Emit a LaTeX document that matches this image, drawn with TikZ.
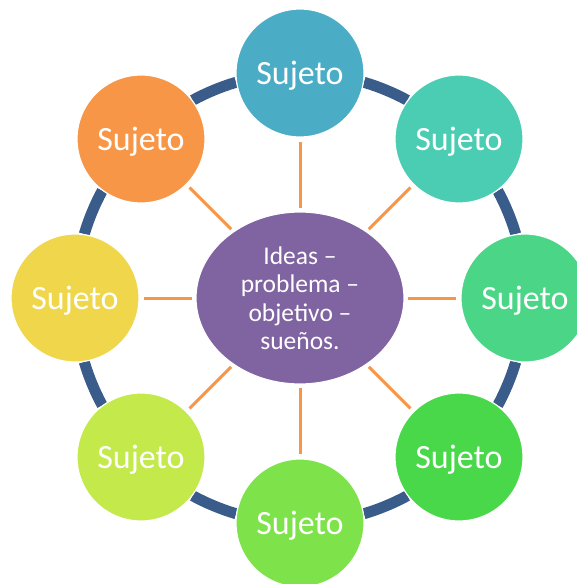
\documentclass[tikz,border=0pt]{standalone}
\usepackage{fontspec}
\setmainfont{Carlito}
\usetikzlibrary{shapes.geometric}

\definecolor{ringblue}{HTML}{3A5C8B}
\definecolor{linkorange}{HTML}{F79646}
\definecolor{ideapurple}{HTML}{8064A2}

\tikzset{
	sujeto/.style={circle, minimum size=128pt, inner sep=0pt, draw=white, line width=1.2pt, text=white, text depth=0pt, font=\fontsize{34}{40}\selectfont},
	idea/.style={ellipse, minimum width=208pt, minimum height=172pt, inner sep=0pt, fill=ideapurple, draw=white, line width=1.2pt, text=white, align=center, font=\fontsize{25.5}{28.5}\selectfont},
	link/.style={draw=linkorange, line width=3pt, shorten >=4pt, shorten <=3pt},
	ring/.style={draw=ringblue, line width=11pt}
}

\begin{document}
\begin{tikzpicture}[x=1pt, y=-1pt]
			%%%%% START %%%%%
			
			\useasboundingbox (0, 0) rectangle (576, 584);
			
			\coordinate (eje) at (300, 298);
			
			% ring pieces between the circles
			\draw[ring] ([shift={(16.5:225pt)}]eje) arc[start angle=16.5, end angle=28.5, radius=225pt];
			\draw[ring] ([shift={(61.5:225pt)}]eje) arc[start angle=61.5, end angle=73.5, radius=225pt];
			\draw[ring] ([shift={(106.5:225pt)}]eje) arc[start angle=106.5, end angle=118.5, radius=225pt];
			\draw[ring] ([shift={(151.5:225pt)}]eje) arc[start angle=151.5, end angle=163.5, radius=225pt];
			\draw[ring] ([shift={(196.5:225pt)}]eje) arc[start angle=196.5, end angle=208.5, radius=225pt];
			\draw[ring] ([shift={(241.5:225pt)}]eje) arc[start angle=241.5, end angle=253.5, radius=225pt];
			\draw[ring] ([shift={(286.5:225pt)}]eje) arc[start angle=286.5, end angle=298.5, radius=225pt];
			\draw[ring] ([shift={(331.5:225pt)}]eje) arc[start angle=331.5, end angle=343.5, radius=225pt];
			
			\node[idea] (centro) at (eje) {Ideas --\\problema --\\objetivo --\\sueños.};
			
			\node[sujeto, fill={rgb,255:red,75;green,172;blue,198}] (arriba) at (300, 73) {Sujeto};
			\node[sujeto, fill={rgb,255:red,75;green,205;blue,180}] (arribader) at (459, 139) {Sujeto};
			\node[sujeto, fill={rgb,255:red,74;green,213;blue,135}] (derecha) at (525, 298) {Sujeto};
			\node[sujeto, fill={rgb,255:red,72;green,216;blue,74}] (abajoder) at (459, 457) {Sujeto};
			\node[sujeto, fill={rgb,255:red,126;green,226;blue,74}] (abajo) at (300, 523) {Sujeto};
			\node[sujeto, fill={rgb,255:red,195;green,234;blue,74}] (abajoizq) at (141, 457) {Sujeto};
			\node[sujeto, fill={rgb,255:red,240;green,214;blue,74}] (izquierda) at (75, 298) {Sujeto};
			\node[sujeto, fill={rgb,255:red,247;green,150;blue,70}] (arribaizq) at (141, 139) {Sujeto};
			
			\draw[link] (centro) -- (arriba);
			\draw[link] (centro) -- (arribader);
			\draw[link] (centro) -- (derecha);
			\draw[link] (centro) -- (abajoder);
			\draw[link] (centro) -- (abajo);
			\draw[link] (centro) -- (abajoizq);
			\draw[link] (centro) -- (izquierda);
			\draw[link] (centro) -- (arribaizq);
			
			%%%%% END %%%%%
\end{tikzpicture}
\end{document}
